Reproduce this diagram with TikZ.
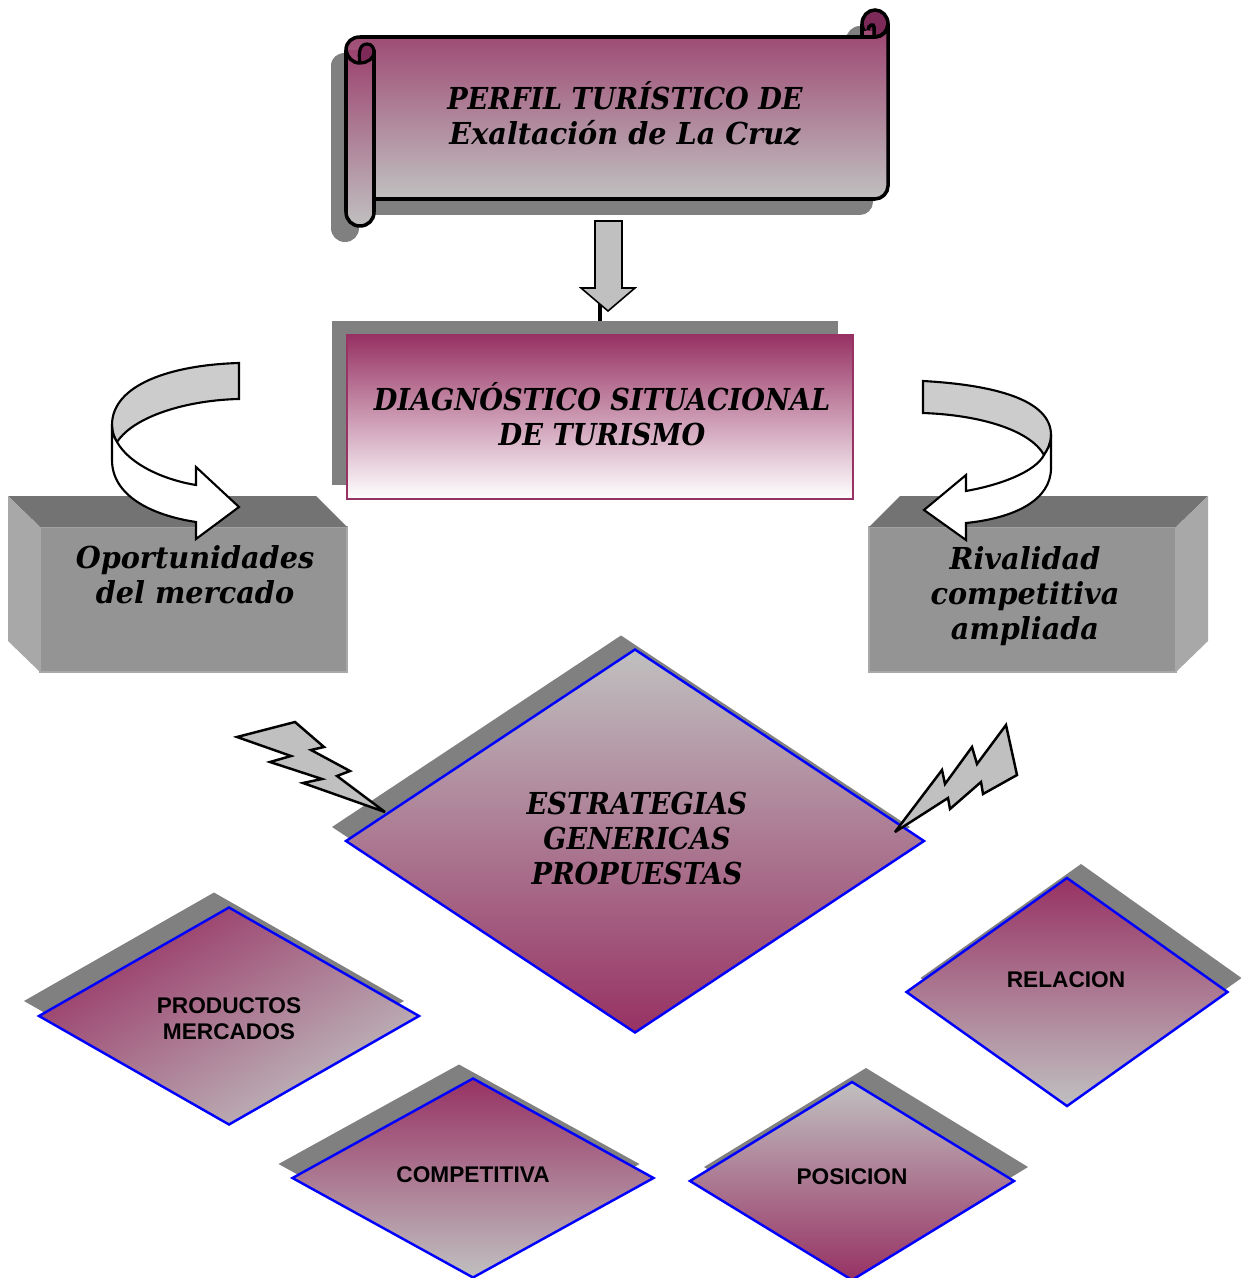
\documentclass[tikz,border=0pt]{standalone}
\usepackage{fontspec}
\usepackage{tikz}
\usetikzlibrary{shapes.geometric}
\usetikzlibrary{shadows}
\newfontfamily\bookfont[FakeStretch=0.9]{DejaVu Serif}
\newfontfamily\bookwide[FakeStretch=0.95]{DejaVu Serif}
\newfontfamily\armfont{Liberation Sans}
\definecolor{plum}{HTML}{973264}
\definecolor{plumdark}{HTML}{7E2A59}
\definecolor{silver}{HTML}{C0C0C0}
\definecolor{shadowgray}{HTML}{808080}
\definecolor{frontgray}{HTML}{949494}
\definecolor{topgray}{HTML}{737373}
\definecolor{sidegray}{HTML}{A8A8A8}
\definecolor{bendgray}{HTML}{CCCCCC}
\newcommand{\scrollbody}{(346,50) .. controls (346,42) and (352,37) .. (360,37) -- (875,37) .. controls (882,37) and (888,31) .. (888,24) -- (888,186) .. controls (888,193) and (882,199) .. (875,199) -- (374,199) -- (374,50)}
\newcommand{\scrollroll}{(346,50) -- (346,212) .. controls (346,220) and (352,226) .. (360,226) .. controls (368,226) and (374,220) .. (374,212) -- (374,50)}
\tikzset{
  serifbig/.style={font=\bookfont\bfseries\itshape\fontsize{8.6}{9.96}\selectfont, align=center, inner sep=0pt},
  serifwide/.style={font=\bookwide\bfseries\itshape\fontsize{8.6}{9.96}\selectfont, align=center, inner sep=0pt},
  armtag/.style={font=\armfont\bfseries\fontsize{6.45}{7.4}\selectfont, align=center, inner sep=0pt},
  rombo/.style={diamond, draw=blue, line width=0.7pt, inner sep=0pt, outer sep=0pt, aspect=1.5},
  fadedown/.style={top color=plum, middle color=plum!38!silver, bottom color=silver},
  fadeup/.style={top color=silver, middle color=plum!38!silver, bottom color=plum},
  romboshadow/.style 2 args={general shadow={fill=shadowgray, shadow xshift=#1, shadow yshift=#2}},
  frontbox/.style={rectangle, fill=frontgray, draw=sidegray, line width=0.3pt, inner sep=0pt, outer sep=0pt, minimum width=30.7mm, minimum height=14.5mm},
  blockline/.style={draw=black, line width=0.45pt, fill=silver, line join=miter},
  boltline/.style={draw=black, line width=0.7pt, fill=silver, line join=miter, miter limit=4},
  bendline/.style={draw=black, line width=0.6pt, line join=miter}
}
\begin{document}
\begin{tikzpicture}[x=0.1mm,y=-0.1mm]
\useasboundingbox (0,0) rectangle (1241,1278);
\coordinate (arrowstem) at (600,300);
\coordinate (diagtop) at (600,335);
% draws scroll
\begin{scope}[shift={(-15,16)}]
\fill[shadowgray] \scrollbody -- cycle;
\fill[shadowgray] \scrollroll -- cycle;
\fill[shadowgray] (875,24) circle (14);
\end{scope}
\shade[top color=plum!88!silver, middle color=plum!38!silver, bottom color=silver] \scrollbody -- cycle;
\shade[top color=plum!88!silver, middle color=plum!38!silver, bottom color=silver] \scrollroll -- cycle;
\filldraw[fill=plumdark, draw=black, line width=1pt] (875,37) .. controls (868,37) and (862,31) .. (862,24) .. controls (862,16) and (868,10) .. (875,10) .. controls (882,10) and (888,16) .. (888,24) .. controls (888,31) and (882,37) .. (875,37);
\fill[plum!80!silver] (862,31) rectangle (874,37);
\draw[line width=1pt] (862,24) -- (862,37);
\draw[line width=1pt] (868,30) .. controls (868,25) and (874,23) .. (874,27) -- (874,37);
\filldraw[fill=plumdark, draw=black, line width=0.9pt] (360,63) .. controls (358,52) and (360,44) .. (367,44) .. controls (372,44) and (374,48) .. (374,52) .. controls (374,58) and (368,63) .. (360,63);
\draw[line width=1pt, line join=round] \scrollbody;
\draw[line width=1pt, line join=round] \scrollroll;
\draw[line width=1pt] (346,50) .. controls (347,57) and (352,63) .. (360,63);
\node[serifbig] (perfil) at (625,114) {PERFIL TURÍSTICO DE\\{\bookwide Exaltación de La Cruz}};
% draws arrow and link
\draw[line width=1.2pt] (arrowstem) -- (diagtop);
\draw[blockline] (595,221) -- (622,221) -- (622,288) -- (635,288) -- (608,311) -- (581,288) -- (595,288) -- cycle;
% draws situational box
\node[rectangle, draw=plum, line width=0.7pt, top color=plum, middle color=plum!30!white, bottom color=white, minimum width=50.6mm, minimum height=16.4mm, inner sep=0pt, outer sep=0pt, general shadow={fill=shadowgray, shadow xshift=-1.5mm, shadow yshift=1.4mm}] (diag) at (600,417) {};
\node[serifbig] (diagtext) at (602,414) {DIAGNÓSTICO SITUACIONAL\\DE TURISMO};
% draws side boxes
\node[frontbox] (oport) at (193.5,599.5) {};
\fill[topgray] (oport.north west) -- (8,496) -- (316,496) -- (oport.north east) -- cycle;
\fill[sidegray] (oport.north west) -- (8,496) -- (8,641) -- (oport.south west) -- cycle;
\node[serifwide] (oporttext) at (195,575) {Oportunidades\\del mercado};
\node[frontbox] (rival) at (1022.5,599.5) {};
\fill[topgray] (rival.north west) -- (900,496) -- (1208,496) -- (rival.north east) -- cycle;
\fill[sidegray] (rival.north east) -- (1208,496) -- (1208,641) -- (rival.south east) -- cycle;
\node[serifwide] (rivaltext) at (1025,596) {Rivalidad\\competitiva\\ampliada};
% draws bent arrows
\filldraw[bendline, fill=bendgray] (239,363) .. controls (170,365) and (112,385) .. (112,425) .. controls (112,432) and (114,437) .. (117,442) .. controls (135,415) and (190,400) .. (239,399) -- cycle;
\filldraw[bendline, fill=white] (117,442) .. controls (130,465) and (165,480) .. (196,485) -- (196,467) -- (239,507) -- (196,539) -- (196,522) .. controls (150,515) and (112,495) .. (112,460) -- (112,425) .. controls (112,432) and (114,437) .. (117,442) -- cycle;
\filldraw[bendline, fill=bendgray] (923,381) .. controls (995,385) and (1051,400) .. (1051,435) .. controls (1051,443) and (1048,449) .. (1044,455) .. controls (1030,430) and (980,415) .. (923,413) -- cycle;
\filldraw[bendline, fill=white] (1044,455) .. controls (1035,472) and (1000,485) .. (966,491) -- (966,475) -- (924,510) -- (966,540) -- (966,523) .. controls (1015,518) and (1051,500) .. (1051,468) -- (1051,435) .. controls (1051,443) and (1048,449) .. (1044,455) -- cycle;
% draws diamonds
\node[rombo, fadeup, minimum width=57.8mm, minimum height=38.3mm, romboshadow={-1.4mm}{1.4mm}] (estrategias) at (635,841) {};
\node[serifbig] (estrategiastext) at (637,838) {ESTRATEGIAS\\GENERICAS\\PROPUESTAS};
\node[rombo, fadedown, shading angle=30, minimum width=38mm, minimum height=21.7mm, romboshadow={-1.5mm}{1.5mm}] (productos) at (229,1016) {};
\node[armtag] (productostext) at (229,1019) {PRODUCTOS\\MERCADOS};
\node[rombo, fadedown, minimum width=32.1mm, minimum height=22.8mm, romboshadow={1.4mm}{1.4mm}] (relacion) at (1067,992) {};
\node[armtag] (relaciontext) at (1066,980) {RELACION};
\node[rombo, fadedown, minimum width=36.1mm, minimum height=19.9mm, romboshadow={-1.4mm}{1.4mm}] (competitiva) at (473,1178) {};
\node[armtag] (competitivatext) at (473,1175) {COMPETITIVA};
\node[rombo, fadeup, minimum width=32.4mm, minimum height=19.8mm, romboshadow={1.4mm}{1.4mm}] (posicion) at (852,1181) {};
\node[armtag] (posiciontext) at (852,1177) {POSICION};
% draws bolts
\filldraw[boltline] (237,737) -- (295,722) -- (324,747) -- (311,750) -- (350,771) -- (337,776) -- (385,812) -- (303,783) -- (322,779) -- (270,762) -- (291,756) -- cycle;
\filldraw[boltline] (1006,725) -- (1017,775) -- (983,794) -- (981,782) -- (950,809) -- (948,798) -- (895,832) -- (942,770) -- (945,784) -- (972,747) -- (977,764) -- cycle;
\end{tikzpicture}
\end{document}
